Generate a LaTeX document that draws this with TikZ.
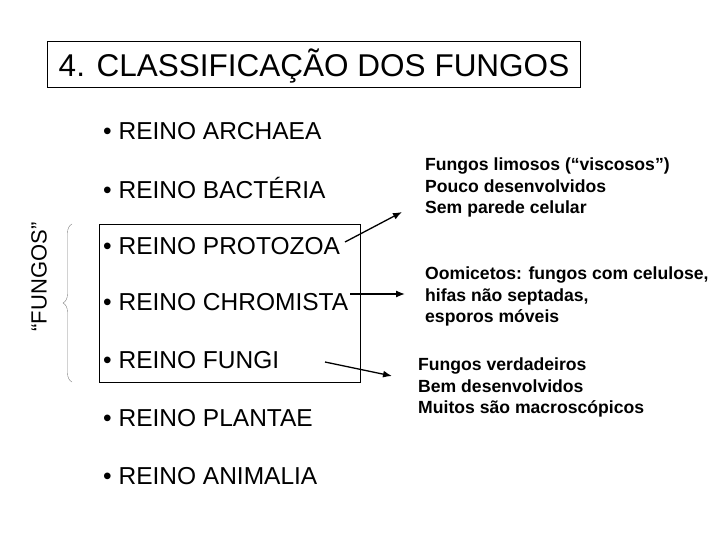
\documentclass[tikz,border=0pt]{standalone}
\usepackage{fontspec}
\setmainfont{Liberation Sans}
\usetikzlibrary{decorations.pathreplacing,arrows.meta}
\begin{document}
\begin{tikzpicture}[x=1pt,y=-1pt,
  item/.style={anchor=west,font=\fontsize{24.5}{28}\selectfont,inner sep=0},
  info/.style={anchor=north west,align=left,font=\fontsize{17.6}{21.5}\selectfont\bfseries,inner sep=0},
  arr/.style={-{Latex[length=9pt,width=7pt]},line width=1.3pt}]
\useasboundingbox (0,0) rectangle (720,540);
\draw[line width=1pt] (47,42) rectangle (580,88);
\node[font=\fontsize{31.5}{34}\selectfont,inner sep=0] (title) at (314,66) {4. CLASSIFICAÇÃO DOS FUNGOS};
\draw (99,224) rectangle (360,382);
\node[item] (a) at (103,131) {• REINO ARCHAEA};
\node[item] (b) at (103,188) {• REINO BACTÉRIA};
\node[item] (p) at (103,246) {• REINO PROTOZOA};
\node[item] (c) at (103,302) {• REINO CHROMISTA};
\node[item] (f) at (103,360) {• REINO FUNGI};
\node[item] (pl) at (103,418) {• REINO PLANTAE};
\node[item] (an) at (103,476) {• REINO ANIMALIA};
\node[info] (i1) at (425,158) {Fungos limosos (“viscosos”)\\Pouco desenvolvidos\\Sem parede celular};
\node[info] (i2) at (425,267) {Oomicetos: fungos com celulose,\\hifas não septadas,\\esporos móveis};
\node[info] (i3) at (418,358) {Fungos verdadeiros\\Bem desenvolvidos\\Muitos são macroscópicos};
\coordinate (e1) at (402,212);
\coordinate (e2) at (405,294);
\coordinate (e3) at (392,376);
\draw[arr] (345,242) -- (e1);
\draw[arr] (350,294) -- (e2);
\draw[arr] (325,362) -- (e3);
\draw[gray,decorate,decoration={brace,amplitude=9pt,mirror}] (72,224) -- (72,382);
\node[rotate=90,font=\fontsize{22}{25}\selectfont] (fg) at (39,277) {“FUNGOS”};
\end{tikzpicture}
\end{document}
